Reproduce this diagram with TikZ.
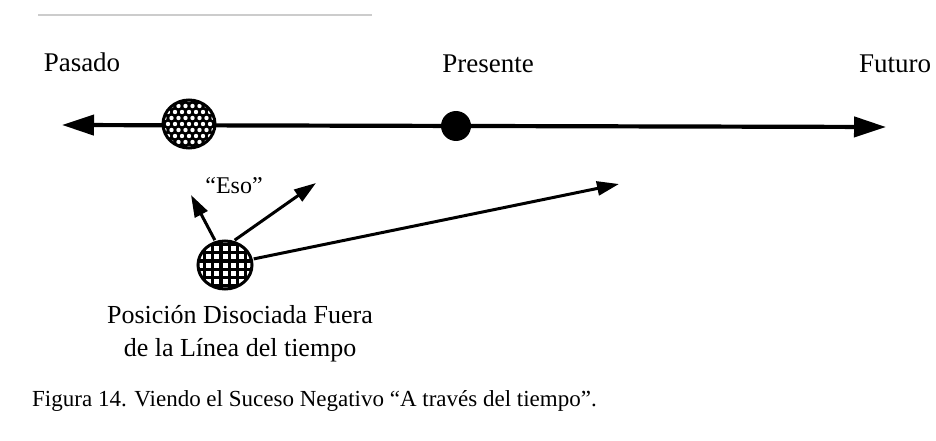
\documentclass[tikz,border=0pt]{standalone}
\usepackage{fontspec}
\setmainfont{Liberation Serif}
\usetikzlibrary{arrows.meta,shapes.geometric,calc}
\begin{document}
\begin{tikzpicture}[x=1pt,y=-1pt,
  lbl/.style={font=\fontsize{27}{30}\selectfont, anchor=base, inner sep=0},
  mainline/.style={line width=4.2pt, {Triangle[length=32pt,width=20pt]}-{Triangle[length=32pt,width=20pt]}},
  ptr/.style={line width=3pt, -{Triangle[length=22pt,width=14pt]}, shorten <=1pt},
  dotball/.style={ellipse, minimum width=52pt, minimum height=48pt, inner sep=0, draw, line width=3pt, fill=black,
    path picture={
      \foreach \i in {-5,...,5}{\foreach \j in {-5,...,5}{
        \pgfmathsetmacro{\ox}{\i*7+mod(abs(\j),2)*3.5}
        \fill[white] ($(path picture bounding box.center)+(\ox,\j*6)$) circle (2.2pt);
      }}
    }},
  gridball/.style={ellipse, minimum width=54pt, minimum height=48pt, inner sep=0, draw, line width=3pt, fill=black,
    path picture={
      \foreach \i in {-4,...,4}{\foreach \j in {-4,...,4}{
        \fill[white] ($(path picture bounding box.center)+(\i*8.2-2.5,\j*8.2-2.5)$) rectangle ++(5,5);
      }}
    }},
  dot/.style={circle, fill=black, minimum size=30pt, inner sep=0}
]
\useasboundingbox (0,0) rectangle (936,441);
\fill[white] (0,0) rectangle (936,441);
% faint scan line at top
\coordinate (s1) at (38,15); \coordinate (s2) at (372,15);
\draw[black!20, line width=1.2pt] (s1) -- (s2);

% time line
\coordinate (L) at (62,125);
\coordinate (R) at (886,127);
\draw[mainline] (L) -- (R);

\node[lbl] (pasado) at (82,72) {Pasado};
\node[lbl] (presente) at (488,73) {Presente};
\node[lbl] (futuro) at (895,73) {Futuro};

\node[dotball] (eso) at (189,124) {};
\node[dot] (pres) at (456,126) {};

\node[font=\fontsize{24}{28}\selectfont, inner sep=0] (esolbl) at (234,186) {“Eso”};

\node[gridball] (grid) at (225,265) {};

\coordinate (t1) at (191,195);
\coordinate (t2) at (316,183);
\coordinate (t3) at (619,184);
\draw[ptr] (grid.112) -- (t1);
\draw[ptr] (grid.70) -- (t2);
\draw[ptr] (grid.12) -- (t3);

\node[lbl, align=center, font=\fontsize{26}{33}\selectfont, anchor=north] (pos) at (240,305)
  {Posición Disociada Fuera\\de la Línea del tiempo};

\node[font=\fontsize{23}{26}\selectfont, anchor=base west, inner sep=0] (cap) at (32,406)
  {Figura 14. Viendo el Suceso Negativo “A través del tiempo”.};
\end{tikzpicture}
\end{document}
